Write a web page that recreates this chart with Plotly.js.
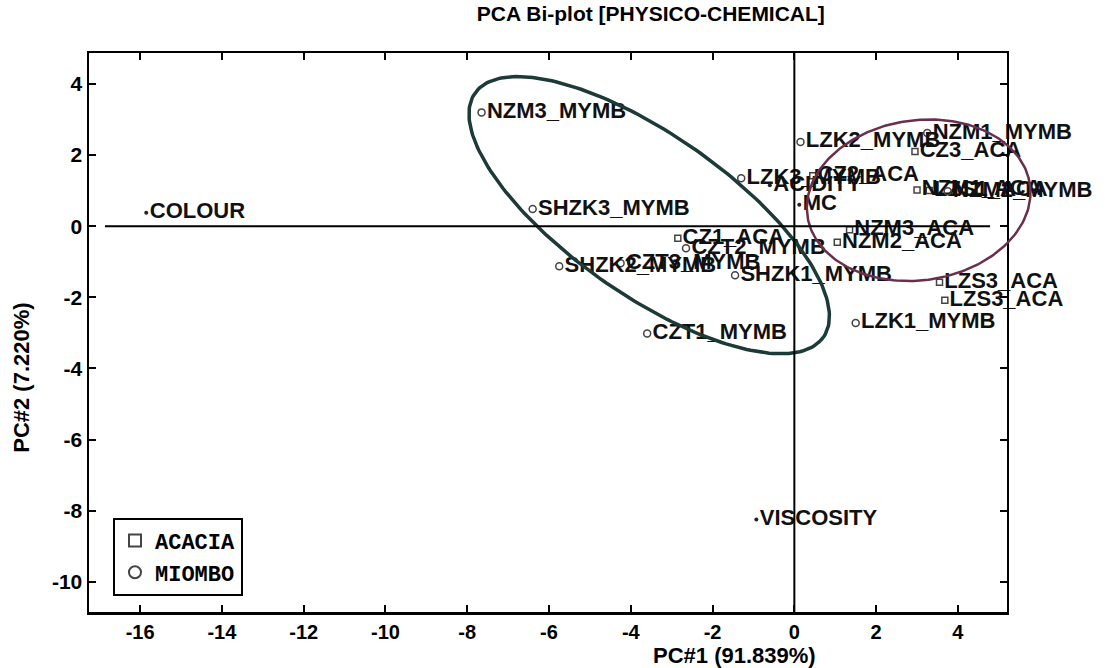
<!DOCTYPE html>
<html>
<head>
<meta charset="utf-8">
<script src="https://cdn.plot.ly/plotly-3.0.1.min.js"></script>
<style>
  html, body { margin: 0; padding: 0; background: #ffffff; }
  #chart { width: 1105px; height: 668px; }
</style>
</head>
<body>
<div id="chart"></div>
<script>
// Sample scores on the first two principal components
const acaciaNames = ['CZ1_ACA', 'CZ2_ACA', 'CZ3_ACA', 'NZM1_ACA', 'NZM2_ACA', 'NZM3_ACA', 'LZS1_ACA', 'LZS3_ACA', 'LZS3_ACA'];
const acaciaPC1 = [-2.85, 0.45, 2.95, 3.0, 1.05, 1.35, 3.3, 3.55, 3.68];
const acaciaPC2 = [-0.34, 1.42, 2.1, 1.02, -0.45, -0.1, 1.0, -1.58, -2.08];

const miomboNames = ['NZM1_MYMB', 'NZM2_MYMB', 'NZM3_MYMB', 'SHZK1_MYMB', 'SHZK2_MYMB', 'SHZK3_MYMB',
                     'CZT1_MYMB', 'CZT2_MYMB', 'CZT3_MYMB', 'LZK1_MYMB', 'LZK2_MYMB', 'LZK3_MYMB'];
const miomboPC1 = [3.25, 3.75, -7.65, -1.45, -5.75, -6.4, -3.6, -2.65, -4.25, 1.5, 0.15, -1.3];
const miomboPC2 = [2.62, 0.98, 3.2, -1.38, -1.13, 0.48, -3.02, -0.62, -1.04, -2.72, 2.37, 1.35];

// Variable loadings (scaled)
const variableNames = ['COLOUR', 'VISCOSITY', 'ACIDITY', 'MC'];
const loadingPC1 = [-15.85, -0.93, -0.6, 0.12];
const loadingPC2 = [0.38, -8.25, 1.15, 0.6];

// Group confidence ellipses: centre, semi-axes and rotation (degrees)
const miomboEllipse = { cx: -3.55, cy: 0.31, a: 5.48, b: 2.14, angle: -40.2 };
const acaciaEllipse = { cx: 3.04, cy: 0.73, a: 2.76, b: 2.24, angle: 13.5 };

const xTicks = [-16, -14, -12, -10, -8, -6, -4, -2, 0, 2, 4];
const yTicks = [-10, -8, -6, -4, -2, 0, 2, 4];
const xRange = [-17.25, 5.2];
const yRange = [-10.85, 4.87];

// Main axes occupy the left part of the plotting area; the ellipse overlay
// uses a wider, identically scaled axis pair so the outlines may run past the frame.
const mainDomainEnd = 0.9454;
const overlayXRange = [xRange[0], xRange[0] + (xRange[1] - xRange[0]) / mainDomainEnd];

function ellipsePath(e, n) {
  const th = e.angle * Math.PI / 180;
  const xs = [], ys = [];
  for (let i = 0; i <= n; i++) {
    const t = 2 * Math.PI * i / n;
    const u = e.a * Math.cos(t), v = e.b * Math.sin(t);
    xs.push(e.cx + u * Math.cos(th) - v * Math.sin(th));
    ys.push(e.cy + u * Math.sin(th) + v * Math.cos(th));
  }
  return { xs, ys };
}

const labelFont = { family: 'Liberation Sans, Arial, sans-serif', size: 22, color: '#111', weight: 'bold' };

const mEll = ellipsePath(miomboEllipse, 240);
const aEll = ellipsePath(acaciaEllipse, 240);

const traces = [
  {
    name: 'ACACIA', x: acaciaPC1, y: acaciaPC2, text: acaciaNames,
    mode: 'markers+text', type: 'scatter', textposition: 'middle right',
    textfont: labelFont, cliponaxis: false,
    marker: { symbol: 'square-open', size: 6, color: '#444', line: { width: 1.5, color: '#444' } }
  },
  {
    name: 'MIOMBO', x: miomboPC1, y: miomboPC2, text: miomboNames,
    mode: 'markers+text', type: 'scatter', textposition: 'middle right',
    textfont: labelFont, cliponaxis: false,
    marker: { symbol: 'circle-open', size: 7, color: '#444', line: { width: 1.5, color: '#444' } }
  },
  {
    name: 'variables', x: loadingPC1, y: loadingPC2, text: variableNames,
    mode: 'markers+text', type: 'scatter', textposition: 'middle right',
    textfont: labelFont, showlegend: false, cliponaxis: false,
    marker: { symbol: 'circle', size: 4, color: '#222' }
  },
  {
    x: mEll.xs, y: mEll.ys, xaxis: 'x2', yaxis: 'y2', mode: 'lines', type: 'scatter',
    line: { color: '#1b3a38', width: 3.5 }, showlegend: false, hoverinfo: 'skip'
  },
  {
    x: aEll.xs, y: aEll.ys, xaxis: 'x2', yaxis: 'y2', mode: 'lines', type: 'scatter',
    line: { color: '#6a2f4c', width: 2.5 }, showlegend: false, hoverinfo: 'skip'
  }
];

const axisFont = { family: 'Liberation Sans, Arial, sans-serif', size: 20, color: '#000', weight: 'bold' };
const titleFont = { family: 'Liberation Sans, Arial, sans-serif', size: 22, color: '#000', weight: 'bold' };

const layout = {
  width: 1105, height: 668,
  margin: { l: 89, r: 45, t: 53, b: 56 },
  paper_bgcolor: '#ffffff', plot_bgcolor: 'rgba(0,0,0,0)',
  title: {
    text: 'PCA Bi-plot [PHYSICO-CHEMICAL]',
    font: { family: 'Liberation Sans, Arial, sans-serif', size: 21, color: '#000', weight: 'bold' },
    x: 0.589, xanchor: 'center', y: 0.979, yanchor: 'middle'
  },
  xaxis: {
    domain: [0, mainDomainEnd], anchor: 'y',
    range: xRange, tickvals: xTicks, ticktext: xTicks.map(String),
    ticks: 'inside', ticklen: 7, tickwidth: 2, tickcolor: '#000',
    showline: true, linecolor: '#000', linewidth: 2.5, mirror: 'ticks',
    showgrid: false, zeroline: false, tickfont: axisFont
  },
  yaxis: {
    domain: [0, 1], anchor: 'x',
    range: yRange, tickvals: yTicks, ticktext: yTicks.map(String),
    ticks: 'inside', ticklen: 7, tickwidth: 2, tickcolor: '#000',
    showline: true, linecolor: '#000', linewidth: 2.5, mirror: 'ticks',
    showgrid: false, zeroline: false, tickfont: { ...axisFont, size: 21 }
  },
  xaxis2: {
    domain: [0, 1], anchor: 'y2', range: overlayXRange, visible: false, fixedrange: true
  },
  yaxis2: {
    domain: [0, 1], anchor: 'x2', range: yRange, visible: false, fixedrange: true
  },
  shapes: [
    { type: 'line', xref: 'paper', yref: 'y', x0: 0.0165, x1: 0.928, y0: 0, y1: 0,
      line: { color: '#000', width: 2 } },
    { type: 'line', xref: 'x', yref: 'paper', x0: 0, x1: 0, y0: 0, y1: 1,
      line: { color: '#000', width: 2 } }
  ],
  annotations: [
    { text: 'PC#1 (91.839%)', xref: 'paper', yref: 'paper', x: 0.665, y: -0.077,
      xanchor: 'center', yanchor: 'middle', showarrow: false, font: titleFont },
    { text: 'PC#2 (7.220%)', xref: 'paper', yref: 'paper', x: -0.069, y: 0.419,
      xanchor: 'center', yanchor: 'middle', textangle: -90, showarrow: false, font: titleFont }
  ],
  legend: {
    x: 0.0247, y: 0.029, xanchor: 'left', yanchor: 'bottom',
    bgcolor: '#ffffff', bordercolor: '#000', borderwidth: 2,
    font: { family: 'Liberation Mono, Courier New, monospace', size: 22, color: '#000', weight: 'bold' },
    itemsizing: 'constant', traceorder: 'normal', itemwidth: 30,
    tracegroupgap: 0
  },
  hovermode: false
};

Plotly.newPlot('chart', traces, layout, { displayModeBar: false, staticPlot: true });
</script>
</body>
</html>
